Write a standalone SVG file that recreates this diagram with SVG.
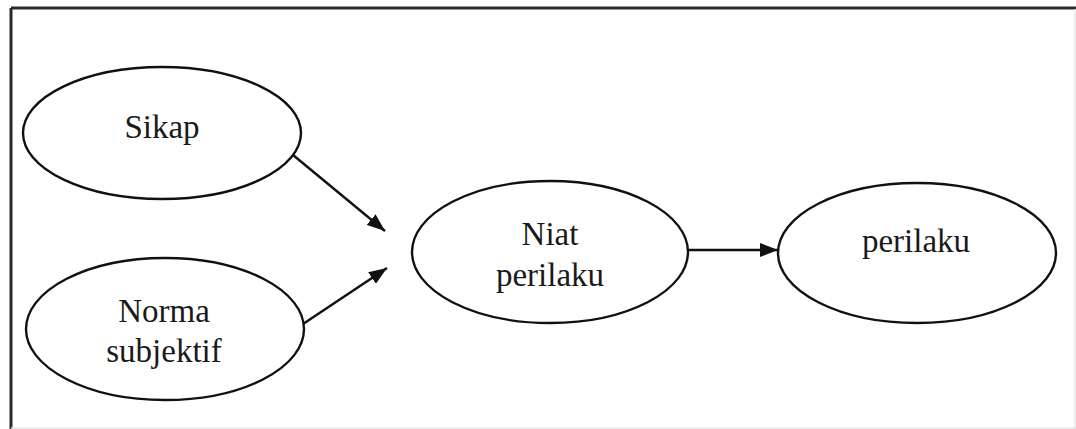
<svg xmlns="http://www.w3.org/2000/svg" width="1076" height="429" viewBox="0 0 1076 429">
  <defs>
    <style>
      .node ellipse { fill: #ffffff; stroke: #111111; stroke-width: 2.4; }
      .node text { font-family: "Liberation Serif", "Times New Roman", serif; font-size: 33px; fill: #1a1a1a; text-anchor: middle; }
      .edge { stroke: #111111; stroke-width: 2.4; fill: none; marker-end: url(#arrow); }
      .frame { stroke: #2a2a2a; stroke-width: 3; fill: none; }
    </style>
    <marker id="arrow" markerUnits="userSpaceOnUse" markerWidth="20" markerHeight="14" refX="18" refY="7" orient="auto">
      <path d="M0,0 L18,7 L0,14 Z" fill="#111111"/>
    </marker>
  </defs>
  <rect width="1076" height="429" fill="#ffffff"/>

  <!-- outer frame -->
  <g id="frame">
    <line class="frame" x1="11" y1="8" x2="1076" y2="8"/>
    <line class="frame" x1="11" y1="8" x2="11" y2="429"/>
    <line x1="1075" y1="9" x2="1075" y2="429" stroke="#e6e6e6" stroke-width="1.5"/>
    <line x1="11" y1="428" x2="1076" y2="428" stroke="#e6e6e6" stroke-width="1.5"/>
  </g>

  <!-- connectors -->
  <g id="connectors">
    <line class="edge" x1="293" y1="155" x2="385" y2="231"/>
    <line class="edge" x1="303" y1="324" x2="387" y2="268"/>
    <line class="edge" x1="689" y1="250" x2="778" y2="250"/>
  </g>

  <g id="sikap" class="node">
    <ellipse cx="162" cy="133" rx="139" ry="66"/>
    <text x="162" y="138">Sikap</text>
  </g>

  <g id="norma-subjektif" class="node">
    <ellipse cx="165" cy="329" rx="139" ry="71"/>
    <text x="164" y="322">Norma</text>
    <text x="164" y="362">subjektif</text>
  </g>

  <g id="niat-perilaku" class="node">
    <ellipse cx="550" cy="252" rx="138" ry="71"/>
    <text x="550" y="245">Niat</text>
    <text x="550" y="286">perilaku</text>
  </g>

  <g id="perilaku" class="node">
    <ellipse cx="917" cy="253" rx="139" ry="70"/>
    <text x="916" y="252">perilaku</text>
  </g>
</svg>
